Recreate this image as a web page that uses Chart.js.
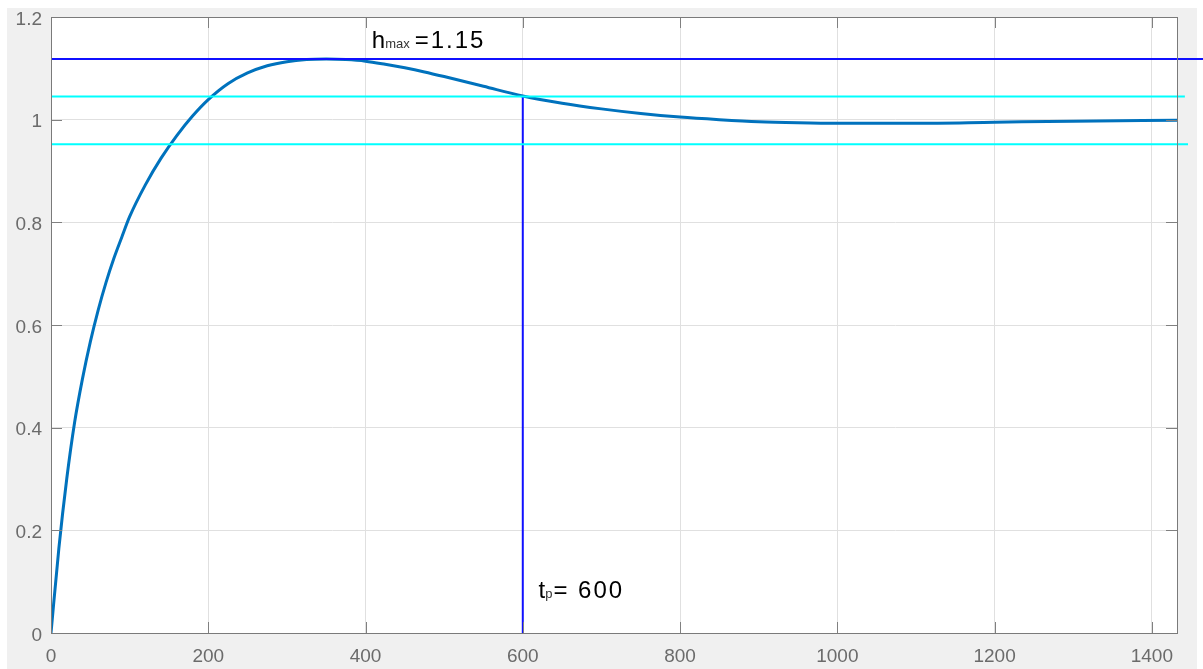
<!DOCTYPE html>
<html>
<head>
<meta charset="utf-8">
<script src="https://cdn.jsdelivr.net/npm/chart.js@4/dist/chart.umd.min.js"></script>
<style>
html,body{margin:0;padding:0;background:#ffffff;}
#wrap{width:1203px;height:669px;position:relative;}
</style>
</head>
<body>
<div id="wrap"><canvas id="c" width="1203" height="669"></canvas></div>
<script>
// ---- data ----
const timeValues = [0, 10, 20, 30, 40, 50, 60, 70, 80, 90, 100, 120, 140, 160, 180, 200, 225, 250, 275, 300, 325, 350, 375, 400, 425, 450, 475, 500, 550, 600, 650, 700, 750, 800, 850, 900, 950, 1000, 1100, 1200, 1300, 1432];
const responseValues = [0, 0.165, 0.30, 0.41, 0.495, 0.567, 0.629, 0.683, 0.730, 0.771, 0.811, 0.873, 0.925, 0.969, 1.007, 1.039, 1.070, 1.091, 1.105, 1.113, 1.117, 1.118, 1.117, 1.114, 1.108, 1.101, 1.093, 1.084, 1.065, 1.046, 1.032, 1.021, 1.012, 1.005, 1.000, 0.996, 0.994, 0.993, 0.993, 0.995, 0.997, 0.999];
const hmaxLevel = 1.118;
const bandUpper = 1.045;
const bandLower = 0.952;
const tpTime = 600;
const xTicks = [0, 200, 400, 600, 800, 1000, 1200, 1400];
const yTicks = [0, 0.2, 0.4, 0.6, 0.8, 1, 1.2];
const hmaxLineX = [0, 1470];
const bandUpperX = [0, 1442];
const bandLowerX = [0, 1446];
const xMax = 1432;
const yMax = 1.2;

const hmaxLabel = {main: 'h', sub: 'max', rest: '=1.15', x: 408, y: 1.139, gap: 5};
const tpLabel = {main: 't', sub: 'p', rest: '= 600', x: 620, y: 0.0676, gap: 1};

const curve = timeValues.map((t, i) => ({x: t, y: responseValues[i]}));

const bgPlugin = {
  id: 'bg',
  beforeDraw(chart) {
    const ctx = chart.ctx, a = chart.chartArea;
    ctx.save();
    ctx.fillStyle = '#ffffff';
    ctx.fillRect(0, 0, chart.width, chart.height);
    ctx.fillStyle = '#f0f0f0';
    ctx.fillRect(7, 8, 1190, chart.height - 8);
    ctx.fillStyle = '#ffffff';
    ctx.fillRect(a.left, a.top, a.right - a.left, a.bottom - a.top);
    ctx.restore();
  }
};

const boxPlugin = {
  id: 'box',
  afterDatasetsDraw(chart) {
    const ctx = chart.ctx, a = chart.chartArea;
    const xs = chart.scales.x, ys = chart.scales.y;
    ctx.save();
    ctx.strokeStyle = '#808080';
    ctx.lineWidth = 1;
    ctx.beginPath();
    const tl = 11;
    xTicks.forEach(v => {
      const px = Math.round(xs.getPixelForValue(v)) + 0.5;
      ctx.moveTo(px, a.bottom); ctx.lineTo(px, a.bottom - tl);
      ctx.moveTo(px, a.top); ctx.lineTo(px, a.top + tl);
    });
    yTicks.forEach(v => {
      const py = Math.round(ys.getPixelForValue(v)) + 0.5;
      ctx.moveTo(a.left, py); ctx.lineTo(a.left + tl, py);
      ctx.moveTo(a.right, py); ctx.lineTo(a.right - tl, py);
    });
    ctx.stroke();
    ctx.strokeStyle = '#7a7a7a';
    ctx.strokeRect(Math.round(a.left) + 0.5, Math.round(a.top) + 0.5, Math.round(a.right - a.left), Math.round(a.bottom - a.top));
    ctx.restore();
  },
  afterDraw(chart) {
    const ctx = chart.ctx;
    const xs = chart.scales.x, ys = chart.scales.y;
    const drawLabel = (lab) => {
      let px = xs.getPixelForValue(lab.x);
      const py = ys.getPixelForValue(lab.y);
      ctx.save();
      ctx.fillStyle = '#000000';
      ctx.textBaseline = 'alphabetic';
      ctx.textAlign = 'left';
      ctx.font = '24px "Liberation Sans", Arial, sans-serif';
      ctx.fillText(lab.main, px, py);
      px += ctx.measureText(lab.main).width;
      ctx.font = '13px "Liberation Sans", Arial, sans-serif';
      ctx.fillStyle = '#333333';
      ctx.fillText(lab.sub, px, py);
      px += ctx.measureText(lab.sub).width + lab.gap;
      ctx.font = '24px "Liberation Sans", Arial, sans-serif';
      ctx.fillStyle = '#000000';
      ctx.letterSpacing = '2px';
      ctx.fillText(lab.rest, px, py);
      ctx.restore();
    };
    drawLabel(hmaxLabel);
    drawLabel(tpLabel);
  }
};

new Chart(document.getElementById('c'), {
  type: 'line',
  data: {
    datasets: [
      {label: 'hmax', data: hmaxLineX.map(x => ({x, y: hmaxLevel})), borderColor: '#1010ff', borderWidth: 2, pointRadius: 0, clip: false, order: 1},
      {label: 'upper', data: bandUpperX.map(x => ({x, y: bandUpper})), borderColor: '#00ffff', borderWidth: 2, pointRadius: 0, clip: false, order: 2},
      {label: 'lower', data: bandLowerX.map(x => ({x, y: bandLower})), borderColor: '#00ffff', borderWidth: 2, pointRadius: 0, clip: false, order: 3},
      {label: 'tp', data: [{x: tpTime, y: 0}, {x: tpTime, y: bandUpper}], borderColor: '#1010ff', borderWidth: 2, pointRadius: 0, order: 4},
      {label: 'h(t)', data: curve, borderColor: '#0072BD', borderWidth: 3, pointRadius: 0, cubicInterpolationMode: 'monotone', order: 5}
    ]
  },
  options: {
    responsive: false,
    animation: false,
    events: [],
    layout: {padding: {top: 17, right: 26, left: 0, bottom: 0}},
    plugins: {legend: {display: false}, tooltip: {enabled: false}},
    scales: {
      x: {
        type: 'linear', min: 0, max: xMax,
        afterFit(s) { s.height = 36; },
        border: {display: false},
        grid: {color: '#e0e0e0', drawTicks: false, lineWidth: 1},
        afterBuildTicks(s) { s.ticks = xTicks.map(v => ({value: v})); },
        ticks: {
          color: '#6b6b6b', padding: 12,
          font: {family: '"Liberation Sans", Arial, sans-serif', size: 19},
          callback: v => String(v)
        }
      },
      y: {
        type: 'linear', min: 0, max: yMax,
        afterFit(s) { s.width = 51; },
        border: {display: false},
        grid: {color: '#e0e0e0', drawTicks: false, lineWidth: 1},
        afterBuildTicks(s) { s.ticks = yTicks.map(v => ({value: v})); },
        ticks: {
          color: '#6b6b6b', padding: 9,
          font: {family: '"Liberation Sans", Arial, sans-serif', size: 19, lineHeight: '5px'},
          callback: v => ['', String(Math.round(v * 10) / 10)]
        }
      }
    }
  },
  plugins: [bgPlugin, boxPlugin]
});
</script>
</body>
</html>
